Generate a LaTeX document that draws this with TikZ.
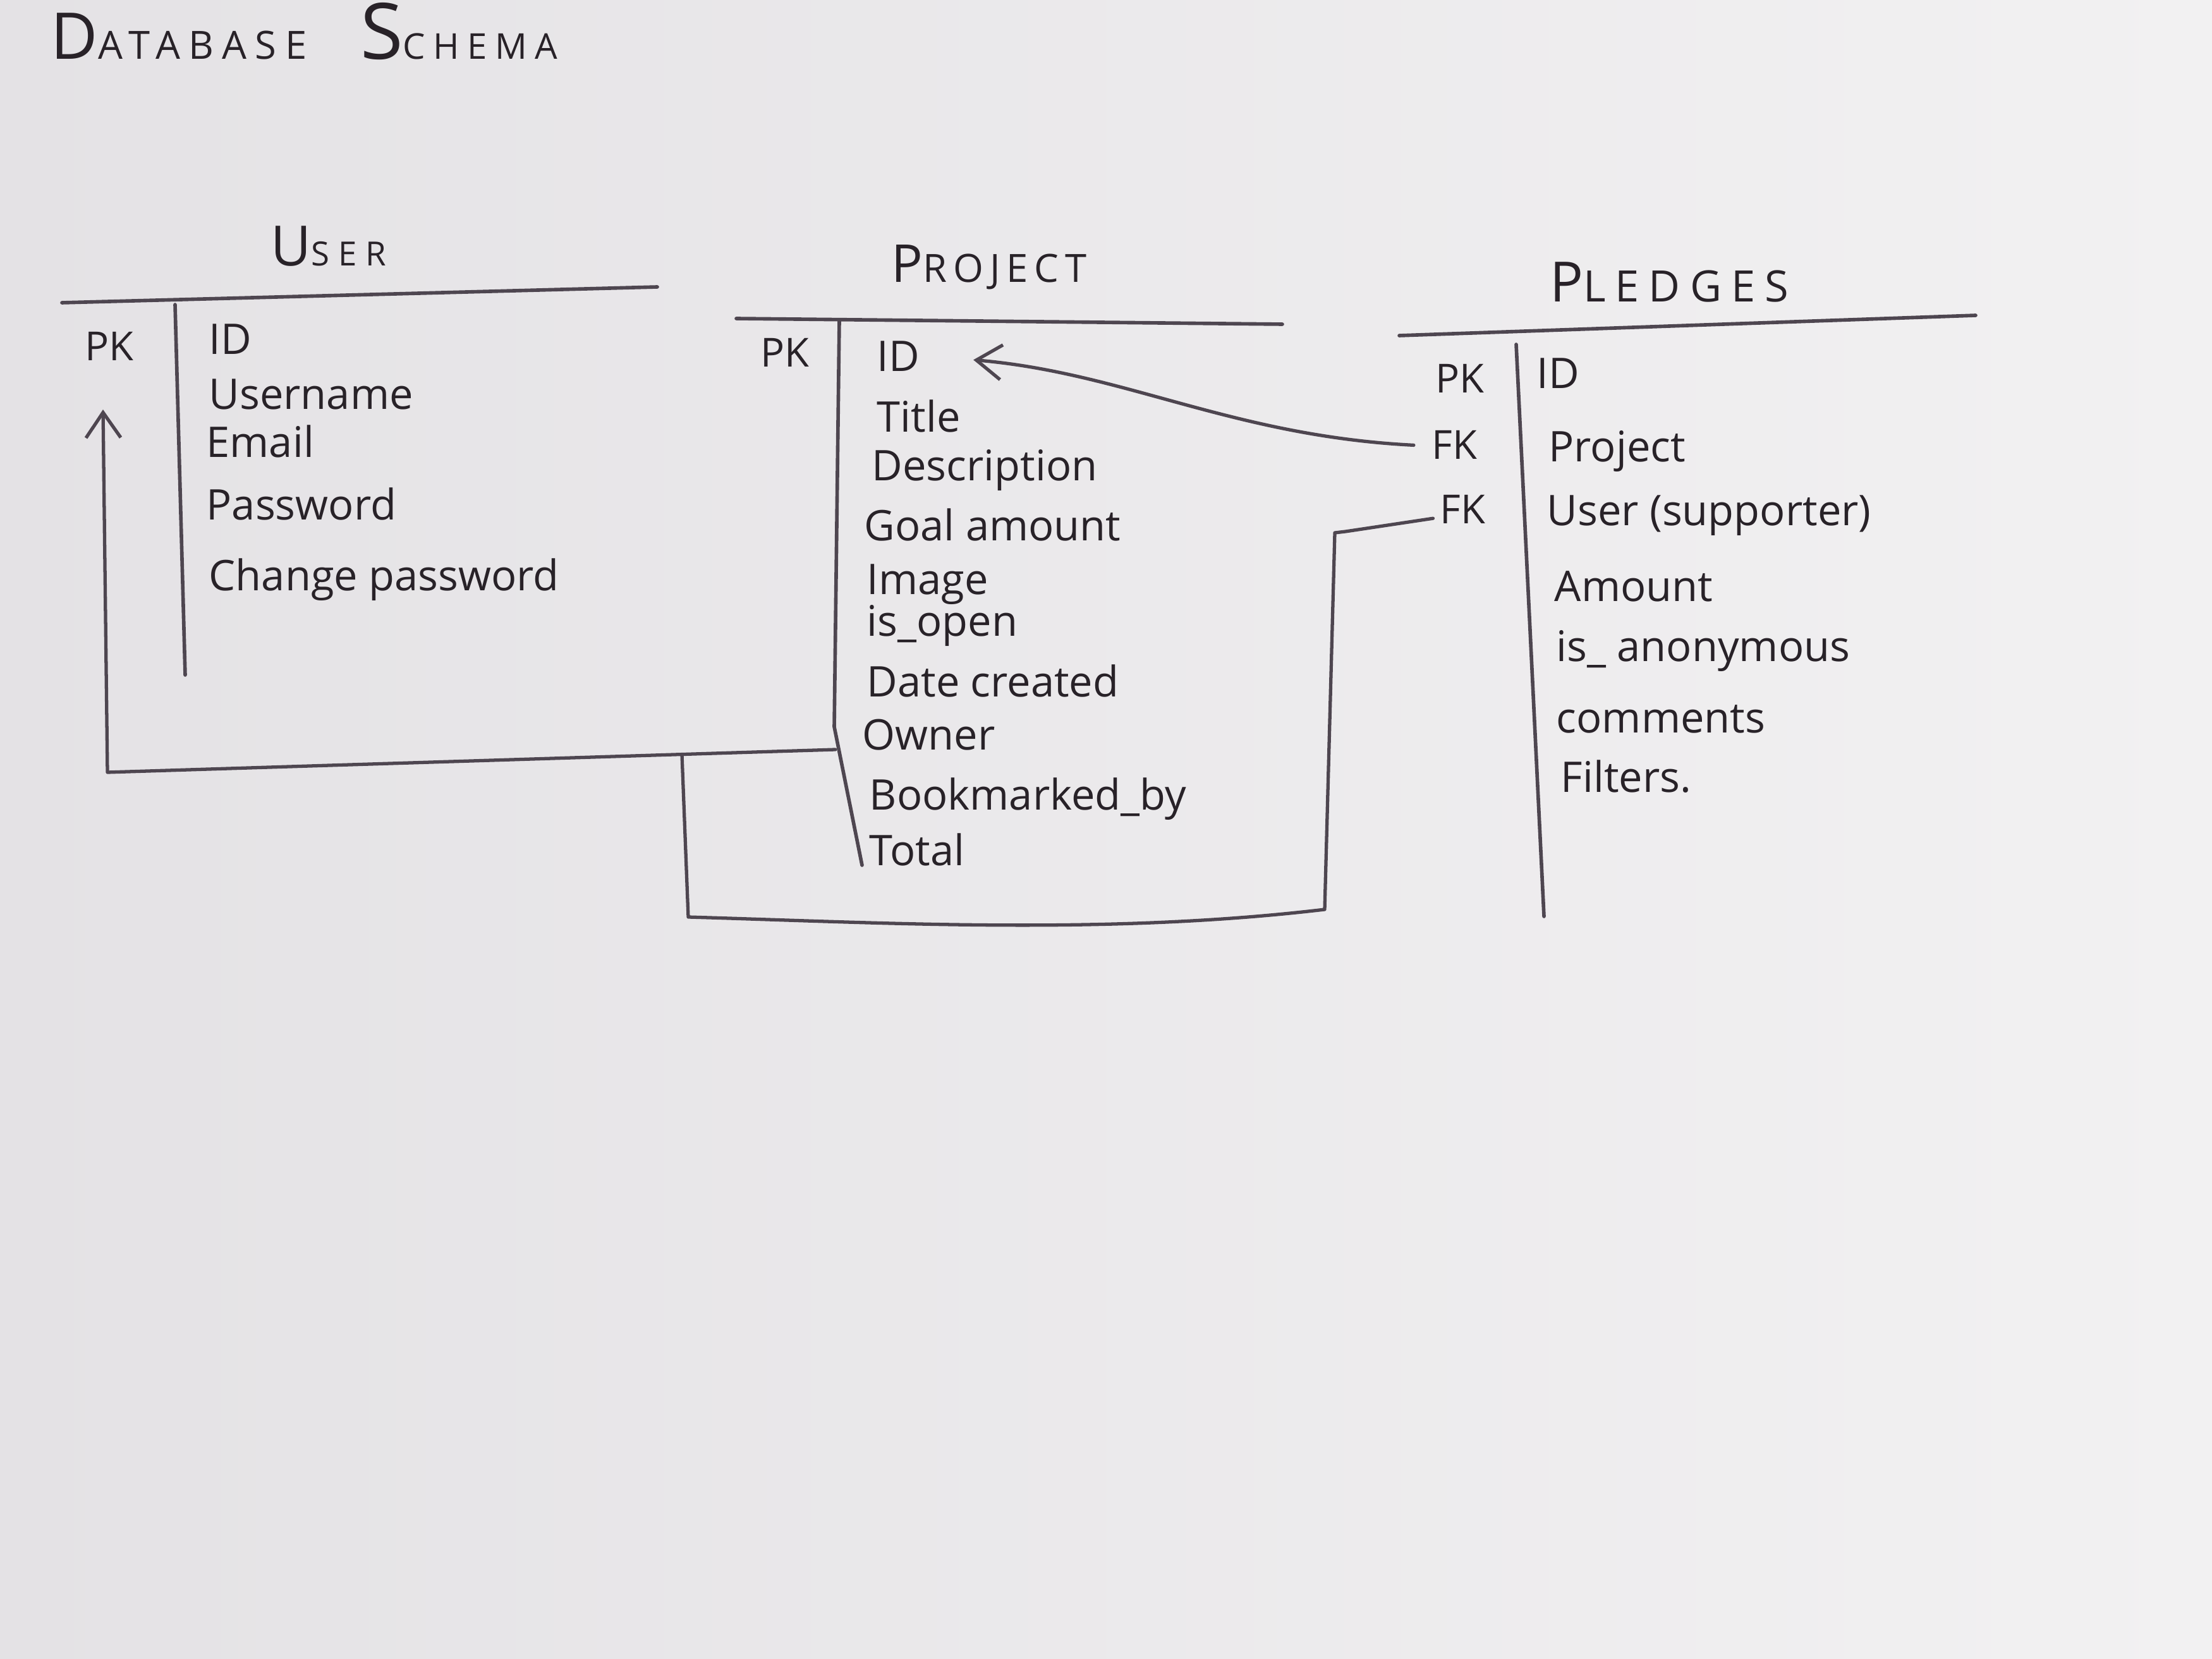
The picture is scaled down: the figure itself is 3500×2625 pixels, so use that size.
\documentclass[tikz,border=0pt]{standalone}
\usepackage{fontspec}
\setmainfont{Open Sans}
\usetikzlibrary{positioning,arrows.meta}

\definecolor{paperleft}{RGB}{228,226,229}
\definecolor{paperright}{RGB}{242,241,242}
\definecolor{ink}{RGB}{40,34,40}
\definecolor{pen}{RGB}{78,70,80}

\newcommand{\tblcaps}[4]{{\fontsize{#1}{#1}\selectfont #3}{\fontsize{#2}{#2}\selectfont #4}}

\begin{document}
\begin{tikzpicture}[
    x=0.01cm, y=-0.01cm,
    heading/.style={anchor=base west, inner sep=0pt, text=ink,
        font=\addfontfeatures{LetterSpace=22}},
    tabletitle/.style={anchor=base, inner sep=0pt, text=ink,
        font=\addfontfeatures{LetterSpace=16}},
    keytag/.style={anchor=base west, inner sep=0pt, text=ink, font=\fontsize{18}{20}\selectfont},
    field/.style={anchor=base west, inner sep=0pt, text=ink, font=\fontsize{19}{22}\selectfont},
    tableline/.style={draw=pen, line width=1.6pt, line cap=round, line join=round},
    fkline/.style={draw=pen, line width=1.5pt, line cap=round, line join=round},
    fkarrow/.style={fkline, -{Straight Barb[length=0.4cm, width=0.55cm, line width=1.5pt]}}
]
\shade [left color=paperleft, right color=paperright] (0,0) rectangle (3500,2625);

\node (title) [heading] at (80,94) {\tblcaps{29}{17.5}{D}{ATABASE}\hspace{0.85cm}\tblcaps{35}{16}{S}{CHEMA}};

% User
\node (user) [tabletitle] at (520,421) {\tblcaps{25}{15}{U}{\addfontfeatures{LetterSpace=26}SER}};
\draw [tableline] (98,479) -- (1040,454);
\draw [tableline] (277,482) -- (293,1068);
\node (upk) [keytag] at (134,571) {PK};
\node (uid) [field] at (330,561) {ID};
\node (uusername) [field] at (330,648) {Username};
\node (uemail) [field] at (326,724) {Email};
\node (upassword) [field] at (326,823) {Password};
\node (uchange) [field] at (330,935) {Change password};
\coordinate (upkin) at (163,648);

% Project
\node (project) [tabletitle] at (1565,447) {\tblcaps{23.5}{17.5}{P}{ROJECT}};
\draw [tableline] (1165,504) -- (2029,513);
\draw [tableline] (1328,508) -- (1320,1150) -- (1364,1369);
\node (ppk) [keytag] at (1203,581) {PK};
\node (pid) [field] at (1387,588) {ID};
\node (ptitle) [field] at (1387,684) {Title};
\node (pdesc) [field] at (1379,761) {Description};
\node (pgoal) [field] at (1367,856) {Goal amount};
\node (pimage) [field] at (1371,940) {Image};
\node (popen) [field] at (1371,1006) {is\_open};
\node (pdate) [field] at (1371,1102) {Date created};
\node (powner) [field] at (1364,1186) {Owner};
\node (pbookmark) [field] at (1375,1281) {Bookmarked\_by};
\node (ptotal) [field] at (1375,1369) {Total};

% Pledges
\node (pledges) [tabletitle] at (2641,478) {\tblcaps{25}{19.5}{P}{\addfontfeatures{LetterSpace=22}LEDGES}};
\draw [tableline] (2214,531) -- (3126,499);
\draw [tableline] (2399,545) -- (2443,1450);
\node (lpk) [keytag] at (2271,622) {PK};
\node (lfk1) [keytag] at (2265,727) {FK};
\node (lfk2) [keytag] at (2278,829) {FK};
\node (lid) [field] at (2431,615) {ID};
\node (lproject) [field] at (2450,731) {Project};
\node (luser) [field] at (2447,832) {User (supporter)};
\node (lamount) [field] at (2459,952) {Amount};
\node (lanon) [field] at (2462,1046) {is\_ anonymous};
\node (lcomments) [field] at (2462,1159) {comments};
\node (lfilters) [field] at (2469,1253) {Filters.};

% connectors
\coordinate (joint) at (1079,1194);
\draw [fkarrow] ([xshift=-12pt]powner.base west) -- (170,1222) -- (upkin);
\draw [fkarrow] ([xshift=-8pt]lfk1.west) .. controls (1950,690) and (1780,590) .. ([xshift=24pt,yshift=-1.5pt]pid.east);
\draw [fkline] ([xshift=-3pt,yshift=2.5pt]lfk2.base west) -- (2129,841) -- (2112,843)
    -- (2096,1439) .. controls (1750,1480) and (1400,1460) .. (1089,1451) -- (joint);
\end{tikzpicture}
\end{document}
